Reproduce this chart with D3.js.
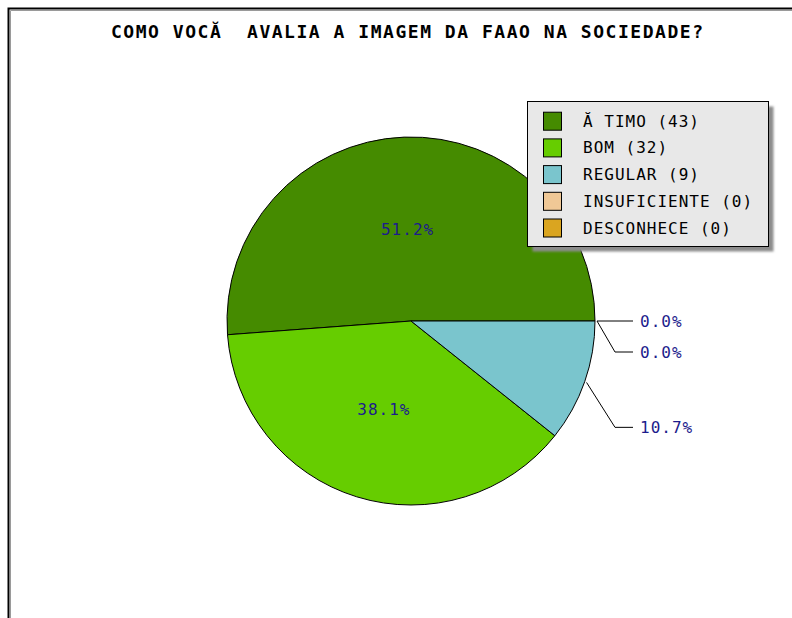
<!DOCTYPE html>
<html>
<head>
<meta charset="utf-8">
<script src="https://cdn.jsdelivr.net/npm/d3@7"></script>
<style>
  html, body { margin: 0; padding: 0; background: #fff; }
  svg { display: block; }
</style>
</head>
<body>
<div id="chart"></div>
<script>
// ---- data ----
const title = "COMO VOCĂ  AVALIA A IMAGEM DA FAAO NA SOCIEDADE?";
const categories = ["Ă TIMO", "BOM", "REGULAR", "INSUFICIENTE", "DESCONHECE"];
const counts = [43, 32, 9, 0, 0];
const colors = ["#458b00", "#66cd00", "#7ac5cd", "#f0c896", "#daa520"];

// ---- layout ----
const W = 792, H = 618;
const cx = 411, cy = 321, R = 184;
const mono = "'DejaVu Sans Mono', 'Liberation Mono', monospace";
const labelColor = "#1c1c8c";

const svg = d3.select("#chart").append("svg")
  .attr("width", W).attr("height", H);

svg.append("rect").attr("width", W).attr("height", H).attr("fill", "#fff");

// frame (top + left visible)
svg.append("path").attr("d", `M8.5,${H} V8.5 H${W}`)
  .attr("fill", "none").attr("stroke", "#000").attr("stroke-width", 2);
svg.append("path").attr("d", `M10.5,${H} V10.5 H${W}`)
  .attr("fill", "none").attr("stroke", "#9a9a9a").attr("stroke-width", 1);

// title
svg.append("text")
  .attr("x", 111).attr("y", 38)
  .attr("textLength", 592).attr("lengthAdjust", "spacing")
  .style("white-space", "pre")
  .attr("font-family", mono).attr("font-size", 18).attr("font-weight", "bold")
  .attr("fill", "#000")
  .text(title);

// pie
const total = d3.sum(counts);
const data = categories.map((c, i) => ({ name: c, value: counts[i], color: colors[i] }));
const pie = d3.pie().sort(null).value(d => d.value)
  .startAngle(Math.PI / 2).endAngle(Math.PI / 2 - 2 * Math.PI);
const arcs = pie(data);
const arc = d3.arc().innerRadius(0).outerRadius(R);

const g = svg.append("g").attr("transform", `translate(${cx},${cy})`);
g.selectAll("path.slice").data(arcs.filter(d => d.value > 0)).join("path")
  .attr("class", "slice")
  .attr("d", arc)
  .attr("fill", d => d.data.color)
  .attr("stroke", "#000").attr("stroke-width", 1).attr("stroke-linejoin", "round");

const pct = d => d3.format(".1f")(d.value / total * 100) + "%";
const mid = d => (d.startAngle + d.endAngle) / 2;
const pt = (a, r) => [Math.sin(a) * r, -Math.cos(a) * r];

// inside labels for large slices
const inside = arcs.filter(d => d.value / total >= 0.15);
g.selectAll("text.in").data(inside).join("text")
  .attr("class", "in")
  .attr("x", d => pt(mid(d), R * 0.5)[0])
  .attr("y", d => pt(mid(d), R * 0.5)[1] + 6)
  .attr("text-anchor", "middle")
  .attr("font-family", mono).attr("font-size", 16).attr("letter-spacing", 1)
  .attr("fill", labelColor)
  .text(pct);

// outside labels with guide lines
const outside = arcs.filter(d => d.value / total < 0.15).map(d => {
  const a = mid(d);
  return { d, a, y: cy + pt(a, R * 1.75)[1] };
});
outside.sort((p, q) => p.y - q.y);
const gap = 31;
for (let i = 1; i < outside.length; i++) {
  if (outside[i].y < outside[i - 1].y + gap) outside[i].y = outside[i - 1].y + gap;
}
const bendX = 615, endX = 633, textX = 640;
outside.forEach(o => {
  const s = pt(o.a, R + 2);
  svg.append("path")
    .attr("d", `M${cx + s[0]},${cy + s[1]} L${bendX},${o.y} L${endX},${o.y}`)
    .attr("fill", "none").attr("stroke", "#000").attr("stroke-width", 1);
  svg.append("text")
    .attr("x", textX).attr("y", o.y + 6)
    .attr("font-family", mono).attr("font-size", 16).attr("letter-spacing", 1)
    .attr("fill", labelColor)
    .text(pct(o.d));
});

// legend
const lx = 527.5, ly = 101.5, lw = 241, lh = 145;
const defs = svg.append("defs");
defs.append("filter").attr("id", "blur").append("feGaussianBlur").attr("stdDeviation", 1.2);
svg.append("rect").attr("x", lx + 5).attr("y", ly + 5).attr("width", lw).attr("height", lh)
  .attr("fill", "#8c8c8c").attr("filter", "url(#blur)");
svg.append("rect").attr("x", lx).attr("y", ly).attr("width", lw).attr("height", lh)
  .attr("fill", "#e8e8e8").attr("stroke", "#000").attr("stroke-width", 1);

const rowH = 26.7;
const leg = svg.append("g");
data.forEach((d, i) => {
  const y0 = 111.7 + i * rowH;
  leg.append("rect").attr("x", 543.5).attr("y", y0 + 0.5).attr("width", 18).attr("height", 18)
    .attr("fill", d.color).attr("stroke", "#000").attr("stroke-width", 1);
  leg.append("text")
    .attr("x", 583).attr("y", y0 + 15)
    .attr("font-family", mono).attr("font-size", 16).attr("letter-spacing", 1)
    .attr("fill", "#000")
    .text(`${d.name} (${d.value})`);
});
</script>
</body>
</html>
